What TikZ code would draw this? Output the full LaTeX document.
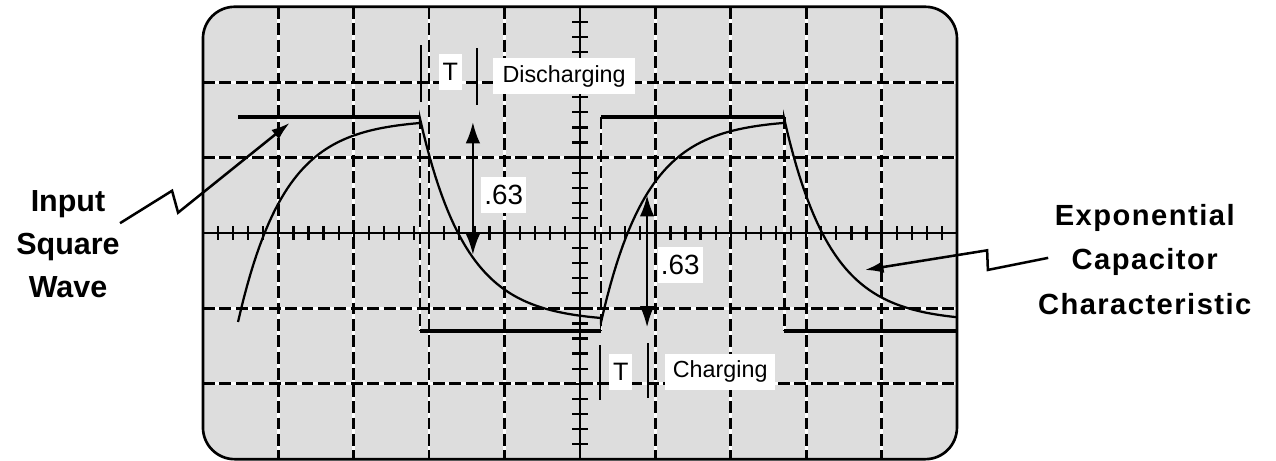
\documentclass[tikz,border=0pt]{standalone}
\usepackage{fontspec}
\setmainfont{Liberation Sans}
\usepackage{tikz}
\usetikzlibrary{arrows.meta, positioning, calc}
\definecolor{screen}{RGB}{221,221,221}

\begin{document}
\begin{tikzpicture}[gridw/.style={white, line width=1pt}, gridb/.style={black, line width=1pt, dash pattern=on 4.5pt off 1.7pt}, wave/.style={line width=1.6pt}, curve/.style={line width=0.85pt}, tbar/.style={line width=0.85pt}, dim/.style={line width=0.85pt, {Latex[length=8pt,width=5.5pt]}-{Latex[length=8pt,width=5.5pt]}}, ptr/.style={line width=0.95pt, -{Latex[length=7pt,width=4.5pt]}}, lbl/.style={fill=white, inner xsep=1.5pt, inner ysep=0pt, minimum height=13.5pt}, side/.style={align=center, font=\fontsize{11.5}{16.2}\selectfont\bfseries}]

\useasboundingbox (-7.692,-3.024) rectangle (9.231,3.090);
\fill[screen, rounded corners=0.42cm] (-5,-3) rectangle (5,3);

% graticule
\foreach \x in {-4,-3,-2,-1,1,2,3,4} \draw[gridw] (\x,-3) -- (\x,3);
\foreach \y in {-2,-1,1,2} \draw[gridw] (-5,\y) -- (5,\y);
\foreach \x in {-2.12,0.28,2.71} \draw[gridw] (\x,1.54) -- (\x,-1.30);
\foreach \x in {-4,-3,-2,-1,1,2,3,4} \draw[gridb] (\x,3) -- (\x,-3);
\foreach \y in {-2,-1,1,2} \draw[gridb] (-5,\y) -- (5,\y);
\foreach \x in {-2.12,0.28,2.71} \draw[gridb] (\x,1.54) -- (\x,-1.30);

% axes
\draw[line width=1.1pt] (-5,0) -- (5,0);
\draw[line width=1pt] (0,-3) -- (0,3);
\foreach \i in {-24,...,24} \draw[line width=0.85pt] (\i/5,-0.09) -- (\i/5,0.09);
\foreach \i in {-14,...,14} \draw[line width=0.85pt] (-0.1,\i/5) -- (0.1,\i/5);

% square wave
\draw[wave] (-4.535,1.54) -- (-2.12,1.54);
\draw[wave] (-2.12,-1.30) -- (0.28,-1.30);
\draw[wave] (0.28,1.54) -- (2.71,1.54);
\draw[wave] (2.71,-1.30) -- (5,-1.30);

% capacitor voltage
\draw[curve] plot[domain=0:2.415, samples=60] ({-4.535+\x},{1.51-2.69*exp(-\x/0.61)})
  -- plot[domain=0:2.40, samples=60] ({-2.12+\x},{-1.18+2.69*exp(-\x/0.61)})
  -- plot[domain=0:2.43, samples=60] ({0.28+\x},{1.51-2.69*exp(-\x/0.61)})
  -- plot[domain=0:2.29, samples=60] ({2.71+\x},{-1.18+2.69*exp(-\x/0.61)});

% time constant marks
\draw[tbar] (-2.11,2.49) -- (-2.11,1.74);
\draw[tbar] (-1.37,2.45) -- (-1.37,1.70);
\draw[tbar] (0.27,-1.49) -- (0.27,-2.21);
\draw[tbar] (0.90,-1.46) -- (0.90,-2.19);

\coordinate (dtop) at (-1.42,1.47);
\coordinate (dbot) at (-1.42,-0.29);
\coordinate (ctop) at (0.89,0.50);
\coordinate (cbot) at (0.89,-1.25);
\draw[dim] (dtop) -- (dbot);
\draw[dim] (ctop) -- (cbot);

\node[lbl, font=\fontsize{9.5}{11}\selectfont] (tdis) at (-1.72,2.14) {T};
\node[lbl, inner xsep=3.5pt, font=\fontsize{8.8}{10}\selectfont] (disch) at (-0.21,2.08) {Discharging};
\node[lbl, inner xsep=1.2pt, font=\fontsize{10.5}{12}\selectfont] (sixdis) at (-1.01,0.50) {.63};
\node[lbl, font=\fontsize{9.5}{11}\selectfont] (tchg) at (0.54,-1.84) {T};
\node[lbl, inner xsep=2.8pt, font=\fontsize{8.8}{10}\selectfont] (chg) at (1.86,-1.84) {Charging};
\node[lbl, inner xsep=1.2pt, font=\fontsize{10.5}{12}\selectfont] (sixchg) at (1.33,-0.42) {.63};

% outside captions
\node[side] (inlbl) at (-6.79,-0.15) {Input\\Square\\Wave};
\node[side, font=\fontsize{11}{16.8}\selectfont\bfseries\addfontfeature{LetterSpace=5}] (exlbl) at (7.49,-0.35) {Exponential\\Capacitor\\Characteristic};

\coordinate (ina) at (-6.10,0.13);
\coordinate (inb) at (-5.41,0.56);
\coordinate (inc) at (-5.33,0.27);
\coordinate (intip) at (-3.85,1.46);
\draw[ptr] (ina) -- (inb) -- (inc) -- (intip);

\coordinate (exa) at (6.21,-0.33);
\coordinate (exb) at (5.41,-0.49);
\coordinate (exc) at (5.40,-0.23);
\coordinate (extip) at (3.78,-0.49);
\draw[ptr] (exa) -- (exb) -- (exc) -- (extip);

\draw[line width=1pt, rounded corners=0.42cm] (-5,-3) rectangle (5,3);

\end{tikzpicture}
\end{document}
